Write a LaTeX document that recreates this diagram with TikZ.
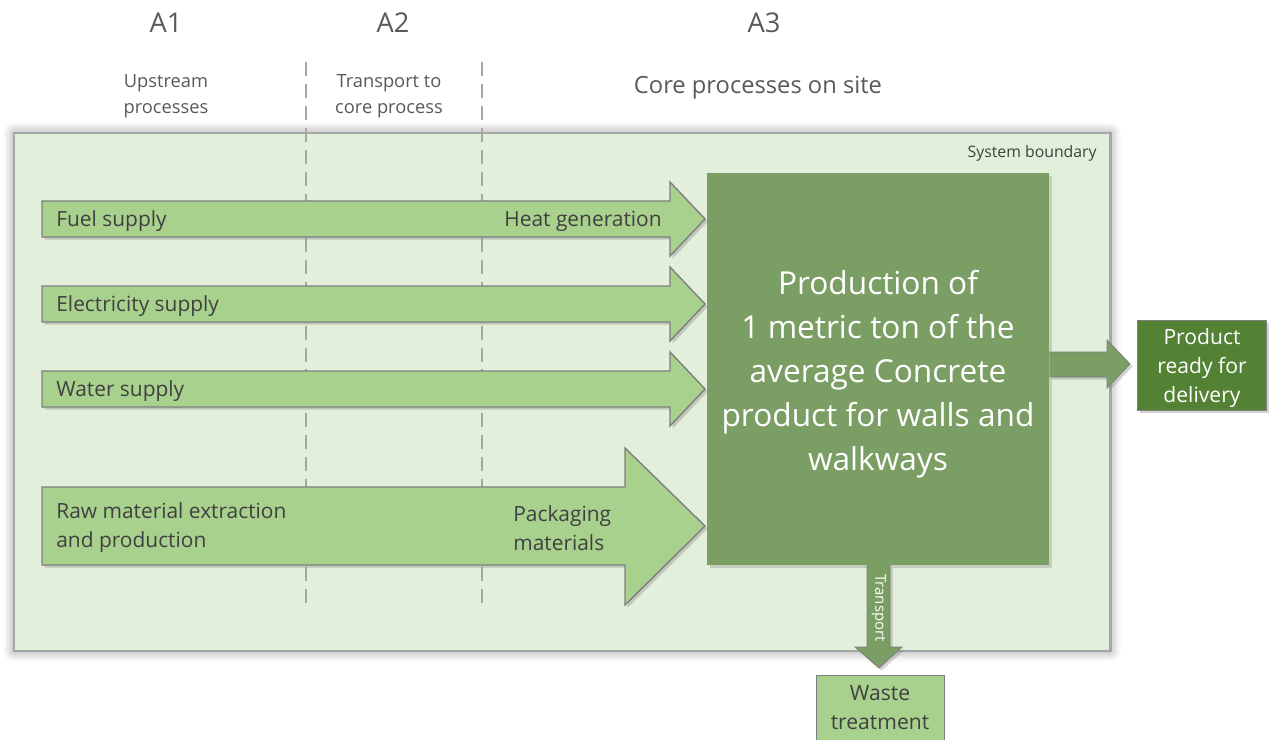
\documentclass[tikz,border=0pt]{standalone}
\usepackage{fontspec}
\setmainfont{Open Sans}
\usetikzlibrary{shadows,shadows.blur}
\definecolor{boundfill}{HTML}{E2EFDA}
\definecolor{boundline}{HTML}{A6A6A6}
\definecolor{lightgreen}{HTML}{A9D18E}
\definecolor{midgreen}{HTML}{7A9E64}
\definecolor{darkgreen}{HTML}{548235}
\definecolor{edgegray}{HTML}{7F7F7F}
\definecolor{textgray}{HTML}{404040}
\definecolor{headgray}{HTML}{595959}
\tikzset{
  lbl/.style={text=textgray, inner sep=0pt, font=\fontsize{11.9}{16.5}\selectfont},
  head/.style={text=headgray, font=\fontsize{15.5}{18}\selectfont},
  sub/.style={text=headgray, align=center, font=\fontsize{10.4}{14.5}\selectfont},
  fatarrow/.style={fill=lightgreen, draw=edgegray, line width=.8pt,
    drop shadow={shadow xshift=1.5pt, shadow yshift=-1.5pt, opacity=.35}},
  darkarrow/.style={fill=midgreen, draw=edgegray, line width=.5pt,
    drop shadow={shadow xshift=1.5pt, shadow yshift=-1.5pt, opacity=.35}},
  phase/.style={boundline, line width=.9pt, dash pattern=on 8pt off 4.5pt}
}
\begin{document}
\begin{tikzpicture}[x=0.02cm,y=-0.02cm]
  \useasboundingbox (0,0) rectangle (1272,740);
  % headers
  \node[head] (a1) at (166,23) {A1};
  \node[head] (a2) at (393,23) {A2};
  \node[head] (a3) at (764,23) {A3};
  \node[sub] (up) at (166,96) {Upstream\\processes};
  \node[sub] (tr) at (389,96) {Transport to\\core process};
  \node[text=headgray, font=\fontsize{13.5}{16}\selectfont] (core) at (758,88) {Core processes on site};
  % system boundary
  \draw[fill=boundfill, draw=boundline, line width=1.7pt,
    blur shadow={shadow xshift=0pt, shadow yshift=0pt, shadow blur radius=6pt, shadow opacity=45}]
    (14,133) rectangle (1110,651);
  \node[lbl, anchor=north east, font=\fontsize{9}{10}\selectfont] (sysb) at (1097,145) {System boundary};
  \foreach \x in {306,482}
    \draw[phase] (\x,62) -- (\x,610);
  % supply arrows
  \foreach \y/\name/\txt in {219/fuel/Fuel supply, 304/elec/Electricity supply, 389/water/Water supply}{
    \draw[fatarrow] (42,\y-18) -- (670,\y-18) -- (670,\y-37) -- (705,\y)
      -- (670,\y+37) -- (670,\y+18) -- (42,\y+18) -- cycle;
    \node[lbl, anchor=west] (\name) at (56,\y+2) {\txt};
  }
  \node[lbl, anchor=east] (heat) at (662,221) {Heat generation};
  \draw[fatarrow] (42,487) -- (625,487) -- (625,448) -- (705,526)
    -- (625,605) -- (625,565) -- (42,565) -- cycle;
  \node[lbl, anchor=west, align=left] (raw) at (56,528) {Raw material extraction\\and production};
  \node[lbl, anchor=west, align=left] (pack) at (513,528) {Packaging\\materials};
  % core process
  \node[fill=midgreen, minimum width=6.84cm, minimum height=7.84cm,
    drop shadow={shadow xshift=1.5pt, shadow yshift=-1.5pt, opacity=.3}] (main) at (878,369) {};
  \node[text=white, align=center, font=\fontsize{18}{25}\selectfont] (maintxt) at (878,374)
    {Production of\\1 metric ton of the\\average Concrete\\product for walls and\\walkways};
  % outputs
  \node[fill=darkgreen, draw=edgegray, line width=.5pt, text=white, align=center,
    minimum width=2.58cm, minimum height=1.8cm, font=\fontsize{12}{16.7}\selectfont,
    drop shadow={shadow xshift=1.5pt, shadow yshift=-1.5pt, opacity=.35}] (prod) at (1202,365) {};
  \node[text=white, align=center, font=\fontsize{12}{16.7}\selectfont] (prodtxt) at (1202,368)
    {Product\\ready for\\delivery};
  \draw[darkarrow] (main.east |- 0,352) -- (1107,352) -- (1107,340) -- (1130,364)
    -- (1107,388) -- (1107,377) -- (main.east |- 0,377);
  \node[fill=lightgreen, draw=edgegray, line width=.5pt, text=textgray, align=center,
    minimum width=2.56cm, minimum height=1.9cm, anchor=north] (waste) at (880,675) {};
  \node[text=textgray, align=center, font=\fontsize{12}{16.5}\selectfont] (wastetxt) at (880,708)
    {Waste\\treatment};
  \draw[darkarrow] (867,565) -- (867,647) -- (855,647) -- (879,668)
    -- (902,647) -- (890,647) -- (890,565);
  \node[text=white, rotate=-90, font=\fontsize{8.5}{10}\selectfont] (transp) at (879,608) {Transport};
\end{tikzpicture}
\end{document}
